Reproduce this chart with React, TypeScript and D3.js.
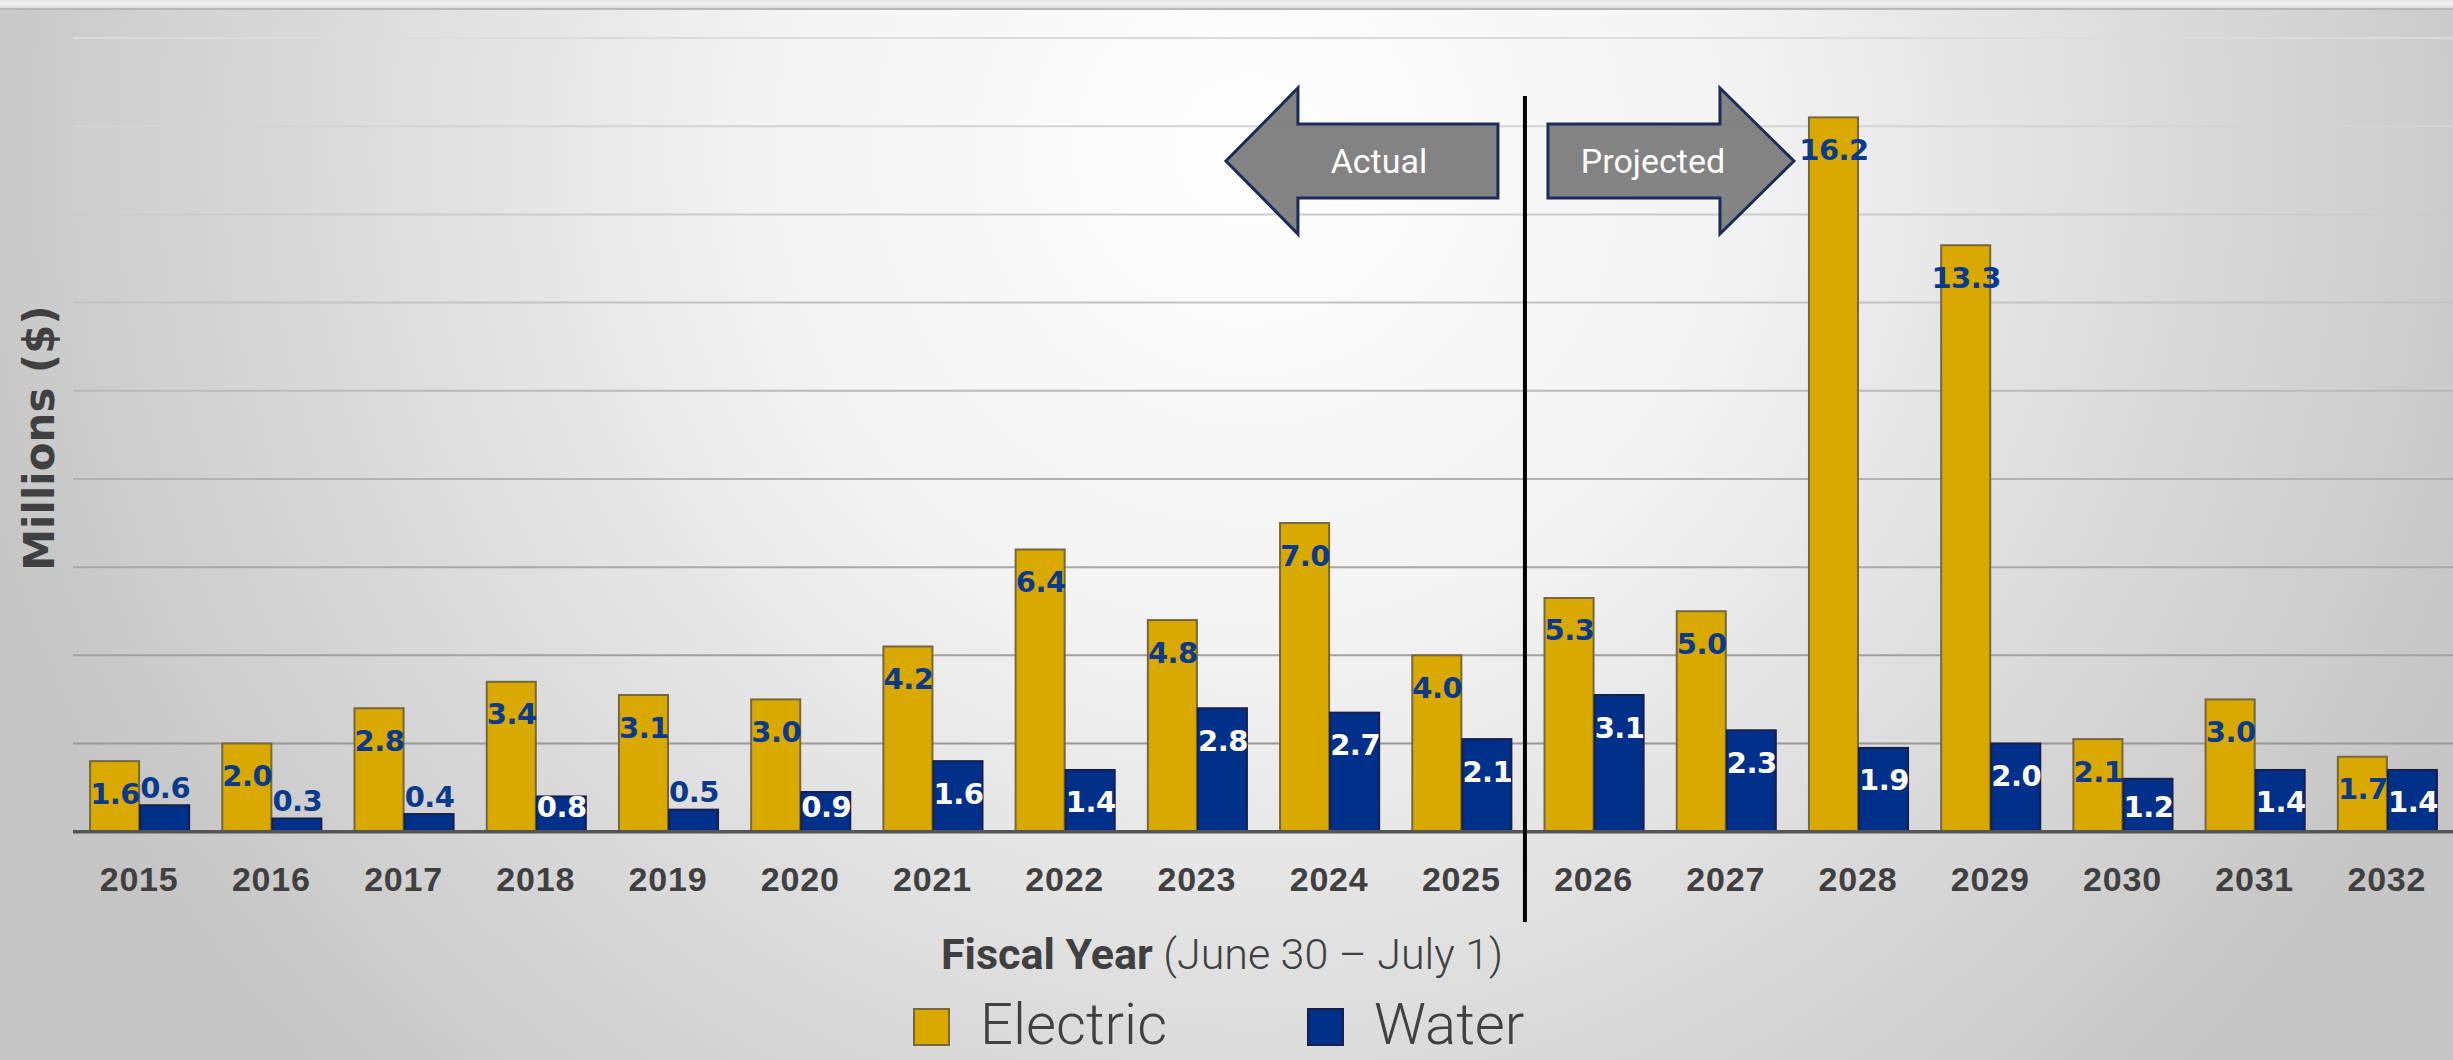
import React, { useRef, useEffect } from 'react';
import * as d3 from 'd3';

// fiscal years on the x axis
const years = [
  '2015', '2016', '2017', '2018', '2019', '2020', '2021', '2022', '2023',
  '2024', '2025', '2026', '2027', '2028', '2029', '2030', '2031', '2032',
];
// millions of dollars
const electric = [1.6, 2.0, 2.8, 3.4, 3.1, 3.0, 4.2, 6.4, 4.8, 7.0, 4.0, 5.3, 5.0, 16.2, 13.3, 2.1, 3.0, 1.7];
const water = [0.6, 0.3, 0.4, 0.8, 0.5, 0.9, 1.6, 1.4, 2.8, 2.7, 2.1, 3.1, 2.3, 1.9, 2.0, 1.2, 1.4, 1.4];
const yTicks = [2, 4, 6, 8, 10, 12, 14, 16, 18];
const seriesNames = ['Electric', 'Water'];
const lastActualYear = '2025';

const GOLD = '#d9a900';
const NAVY = '#00308a';
const LABEL_NAVY = '#0b3a8c';
const TEXT = '#404040';

export default function App() {
  const svgEl = useRef(null);
  const width = 2453;
  const height = 1060;
  const margin = { left: 73, right: 0, top: 38, bottom: 228 };

  useEffect(() => {
    document.body.style.margin = '0';
    const svg = d3.select(svgEl.current);
    svg.selectAll('*').remove();

    const defs = svg.append('defs');
    const bg = defs
      .append('radialGradient')
      .attr('id', 'bgGrad')
      .attr('gradientUnits', 'userSpaceOnUse')
      .attr('cx', 1250)
      .attr('cy', 150)
      .attr('r', 1400);
    [
      ['0%', '#fefefe'],
      ['35%', '#f3f3f3'],
      ['65%', '#dbdbdb'],
      ['95%', '#c5c5c5'],
    ].forEach(([o, c]) => bg.append('stop').attr('offset', o).attr('stop-color', c));

    const topBand = defs
      .append('linearGradient')
      .attr('id', 'topBand')
      .attr('x1', 0).attr('x2', 0).attr('y1', 0).attr('y2', 1);
    topBand.append('stop').attr('offset', '0%').attr('stop-color', '#e6e6e6');
    topBand.append('stop').attr('offset', '50%').attr('stop-color', '#f0f0f0');
    topBand.append('stop').attr('offset', '100%').attr('stop-color', '#dedede');

    svg.append('rect').attr('width', width).attr('height', height).attr('fill', 'url(#bgGrad)');
    svg.append('rect').attr('width', width).attr('height', 8).attr('fill', 'url(#topBand)');
    svg.append('rect').attr('y', 8).attr('width', width).attr('height', 2).attr('fill', '#b8b8b8');

    const x = d3
      .scaleBand()
      .domain(years)
      .range([margin.left, width - margin.right])
      .paddingInner(0.243)
      .paddingOuter(0.1215);
    const xs = d3.scaleBand().domain(seriesNames).range([0, x.bandwidth()]);
    const y = d3
      .scaleLinear()
      .domain([0, 18])
      .range([height - margin.bottom - 0.3, margin.top]);

    const gridColor = d3.scaleLinear().domain([2, 18]).range(['#989898', '#dcdcdc']);

    // gridlines
    svg
      .append('g')
      .selectAll('line')
      .data(yTicks)
      .enter()
      .append('line')
      .attr('x1', margin.left)
      .attr('x2', width)
      .attr('y1', (d) => y(d))
      .attr('y2', (d) => y(d))
      .attr('stroke', (d) => gridColor(d))
      .attr('stroke-width', 2);

    const rows = years.map((yr, i) => ({ year: yr, values: [electric[i], water[i]] }));

    const groups = svg
      .append('g')
      .selectAll('g')
      .data(rows)
      .enter()
      .append('g')
      .attr('transform', (d) => `translate(${x(d.year)},0)`);

    groups
      .selectAll('rect')
      .data((d) => d.values.map((v, i) => ({ v, s: seriesNames[i] })))
      .enter()
      .append('rect')
      .attr('x', (d) => xs(d.s) + 1)
      .attr('width', xs.bandwidth() - 1)
      .attr('y', (d) => y(d.v))
      .attr('height', (d) => y(0) - y(d.v))
      .attr('fill', (d) => (d.s === 'Electric' ? GOLD : NAVY))
      .attr('stroke', (d) => (d.s === 'Electric' ? '#75683c' : '#16204a'))
      .attr('stroke-width', 2);

    // value labels, inside the top of the bar unless the bar is too short
    groups
      .selectAll('text')
      .data((d) => d.values.map((v, i) => ({ v, s: seriesNames[i] })))
      .enter()
      .append('text')
      .attr('x', (d) => xs(d.s) + xs.bandwidth() / 2 + 1)
      .attr('y', (d) => {
        const top = y(d.v);
        const c = d.v >= 0.75 ? Math.min(top + 32, 806) : top - 18;
        return c + 10.5;
      })
      .attr('text-anchor', 'middle')
      .attr('font-family', '"DejaVu Sans", Verdana, sans-serif')
      .attr('font-weight', 700)
      .attr('font-size', 29)
      .attr('letter-spacing', -0.5)
      .attr('fill', (d) => (d.s === 'Water' && d.v >= 0.75 ? '#ffffff' : LABEL_NAVY))
      .text((d) => d3.format('.1f')(d.v));

    // x axis line
    svg
      .append('line')
      .attr('x1', margin.left)
      .attr('x2', width)
      .attr('y1', y(0))
      .attr('y2', y(0))
      .attr('stroke', '#555555')
      .attr('stroke-width', 3.5);

    // year labels
    svg
      .append('g')
      .selectAll('text')
      .data(years)
      .enter()
      .append('text')
      .attr('x', (d) => x(d) + x.bandwidth() / 2)
      .attr('y', 891)
      .attr('text-anchor', 'middle')
      .attr('font-family', '"Liberation Sans", Arial, sans-serif')
      .attr('font-weight', 700)
      .attr('font-size', 34)
      .attr('letter-spacing', 0.8)
      .attr('fill', TEXT)
      .text((d) => d);

    // actual / projected divider
    const i25 = years.indexOf(lastActualYear);
    const divX = (x(years[i25]) + x.bandwidth() + x(years[i25 + 1])) / 2 - 2.5;
    svg
      .append('line')
      .attr('x1', divX)
      .attr('x2', divX)
      .attr('y1', 96)
      .attr('y2', 922)
      .attr('stroke', '#000')
      .attr('stroke-width', 4);

    // arrows
    const cy = 161;
    const arrowPts = (base, neck, tip) => [
      [base, cy - 37],
      [neck, cy - 37],
      [neck, cy - 73],
      [tip, cy],
      [neck, cy + 73],
      [neck, cy + 37],
      [base, cy + 37],
    ];
    const arrows = [
      { label: 'Actual', pts: arrowPts(divX - 27, divX - 227, divX - 299), tx: divX - 146 },
      { label: 'Projected', pts: arrowPts(divX + 23, divX + 195, divX + 269), tx: divX + 128 },
    ];
    const ag = svg.append('g').selectAll('g').data(arrows).enter().append('g');
    ag.append('path')
      .attr('d', (d) => d3.line()(d.pts) + 'Z')
      .attr('fill', '#7c7c7c')
      .attr('fill-opacity', 0.95)
      .attr('stroke', '#1e2b58')
      .attr('stroke-width', 3)
      .attr('stroke-linejoin', 'miter');
    ag.append('text')
      .attr('x', (d) => d.tx)
      .attr('y', cy + 12)
      .attr('text-anchor', 'middle')
      .attr('font-family', 'Roboto, sans-serif')
      .attr('font-size', 34)
      .attr('fill', '#ffffff')
      .text((d) => d.label);

    // axis titles
    svg
      .append('text')
      .attr('transform', 'translate(54,438) rotate(-90)')
      .attr('text-anchor', 'middle')
      .attr('font-family', '"DejaVu Sans", Verdana, sans-serif')
      .attr('font-weight', 700)
      .attr('font-size', 42)
      .attr('fill', TEXT)
      .text('Millions ($)');

    const xt = svg
      .append('text')
      .attr('x', 1222)
      .attr('y', 969)
      .attr('text-anchor', 'middle')
      .attr('font-family', 'Roboto, sans-serif')
      .attr('font-size', 43)
      .attr('fill', TEXT);
    xt.append('tspan').attr('font-weight', 700).text('Fiscal Year');
    xt.append('tspan').attr('font-weight', 300).text(' (June 30 \u2013 July 1)');

    // legend
    const legend = [
      { name: seriesNames[0], color: GOLD, stroke: '#75683c', x: 914 },
      { name: seriesNames[1], color: NAVY, stroke: '#16204a', x: 1308 },
    ];
    const lg = svg.append('g').selectAll('g').data(legend).enter().append('g');
    lg.append('rect')
      .attr('x', (d) => d.x)
      .attr('y', 1009)
      .attr('width', 35)
      .attr('height', 36)
      .attr('fill', (d) => d.color)
      .attr('stroke', (d) => d.stroke)
      .attr('stroke-width', 2);
    lg.append('text')
      .attr('x', (d) => d.x + 66)
      .attr('y', 1044)
      .attr('font-family', 'Roboto, sans-serif')
      .attr('font-weight', 300)
      .attr('font-size', 58)
      .attr('fill', TEXT)
      .text((d) => d.name);
  }, []);

  return <svg ref={svgEl} width={width} height={height} style={{ display: 'block' }} />;
}
